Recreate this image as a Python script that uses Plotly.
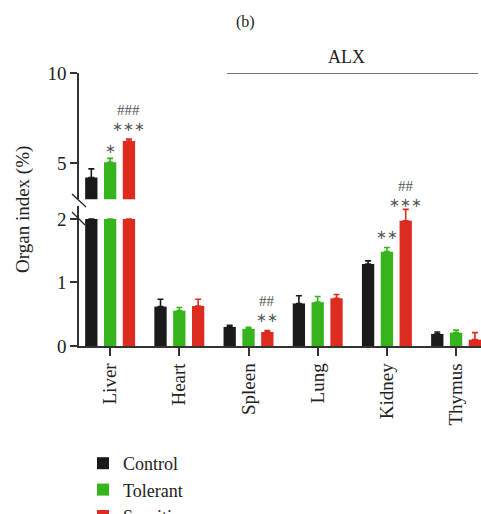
import plotly.graph_objects as go

organs = ["Liver", "Heart", "Spleen", "Lung", "Kidney", "Thymus"]
groups = ["Control", "Tolerant", "Sensitive"]
colors = ["#1a1a1a", "#35b41c", "#dd2b1f"]

control = [4.20, 0.62, 0.30, 0.67, 1.29, 0.19]
control_err = [0.48, 0.115, 0.025, 0.12, 0.05, 0.03]
tolerant = [5.05, 0.556, 0.27, 0.69, 1.485, 0.21]
tolerant_err = [0.21, 0.05, 0.025, 0.09, 0.065, 0.04]
sensitive = [6.22, 0.63, 0.22, 0.75, 1.97, 0.10]
sensitive_err = [0.11, 0.105, 0.025, 0.06, 0.18, 0.11]

values = [control, tolerant, sensitive]
errors = [control_err, tolerant_err, sensitive_err]

break_low = 2.0
low_range = [0, 2.2]
high_range = [3, 10]

# significance marks: (organ index, group index, text, pixel shift above error bar)
marks = [
    (0, 1, "∗", 10),
    (0, 2, "∗∗∗", 13),
    (0, 2, "###", 29),
    (2, 2, "∗∗", 13),
    (2, 2, "##", 29),
    (4, 1, "∗∗", 13),
    (4, 2, "∗∗∗", 7),
    (4, 2, "##", 23),
]

FONT = "Liberation Serif"
AX = "#333333"
fig = go.Figure()

for g, name in enumerate(groups):
    v = values[g]
    e = errors[g]
    low_v = [min(x, break_low) for x in v]
    low_e = [err if x <= break_low else float("nan") for x, err in zip(v, e)]
    fig.add_trace(go.Bar(
        x=organs, y=low_v, name=name, marker_color=colors[g], marker_line_width=0,
        error_y=dict(type="data", symmetric=False, array=low_e, arrayminus=[0] * len(v),
                     color=colors[g], thickness=1.6, width=3),
        xaxis="x", yaxis="y", legendgroup=name, showlegend=True,
    ))
    fig.add_trace(go.Bar(
        x=organs, y=v, name=name, marker_color=colors[g], marker_line_width=0,
        error_y=dict(type="data", symmetric=False, array=e, arrayminus=[0] * len(v),
                     color=colors[g], thickness=1.6, width=3),
        xaxis="x", yaxis="y2", legendgroup=name, showlegend=False,
    ))

slot = 0.272
for oi, gi, txt, shift in marks:
    top = values[gi][oi] + errors[gi][oi]
    ax = "y2" if top > break_low + 0.5 else "y"
    size = 13 if "∗" in txt else 15
    fig.add_annotation(x=oi + (gi - 1) * slot, y=top, xref="x", yref=ax, text=txt,
                       showarrow=False, yanchor="middle", yshift=shift, borderpad=0,
                       font=dict(family=FONT, size=size, color="#555555"))

# ALX bracket
fig.add_shape(type="line", xref="x", yref="y2", x0=1.69, x1=5.32, y0=10, y1=10,
              line=dict(color="#444444", width=1.5))
fig.add_annotation(x=3.42, y=10, xref="x", yref="y2", text="ALX", showarrow=False,
                   yanchor="bottom", yshift=4, font=dict(family=FONT, size=18, color="#222222"))

# axis break marks (paper coords relative to plot area)
W, H = 402, 273
def px(xp, yp):
    return (xp - 79) / W, (346 - yp) / H
for (x0, y0, x1, y1) in [(72, 194, 86, 207), (72, 212, 85, 225)]:
    a0, b0 = px(x0, y0)
    a1, b1 = px(x1, y1)
    fig.add_shape(type="line", xref="paper", yref="paper", x0=a0, y0=b0, x1=a1, y1=b1,
                  line=dict(color="#222222", width=1.3))

# y axis title
fig.add_annotation(xref="paper", yref="paper", x=(23 - 79) / W, y=(346 - 210) / H,
                   text="Organ index (%)", textangle=-90, showarrow=False,
                   xanchor="center", yanchor="middle",
                   font=dict(family=FONT, size=19, color="#222222"))

fig.update_layout(
    width=481, height=514,
    margin=dict(l=79, r=0, t=73, b=168, autoexpand=False),
    paper_bgcolor="white", plot_bgcolor="white",
    barmode="group", bargap=0.184, bargroupgap=0.346,
    title=dict(text="(b)", x=0.51, xanchor="center", y=1 - 21 / 514, yanchor="middle",
               font=dict(family=FONT, size=16, color="#222222")),
    font=dict(family=FONT, color="#222222"),
    xaxis=dict(domain=[0, 1], range=[-0.45, 5.36], anchor="y", showline=True,
               linecolor=AX, linewidth=1.5, ticks="outside", ticklen=8, tickwidth=1.5,
               tickcolor=AX, tickangle=-90, tickfont=dict(family=FONT, size=19, color="#222222"),
               showgrid=False, zeroline=False),
    yaxis=dict(domain=[0, 0.512], range=low_range, anchor="x", showline=True,
               linecolor=AX, linewidth=1.5, ticks="outside", ticklen=7, tickwidth=1.5,
               tickcolor=AX, tickvals=[0, 1, 2], tickfont=dict(family=FONT, size=19, color="#222222"),
               showgrid=False, zeroline=False),
    yaxis2=dict(domain=[0.538, 1], range=high_range, anchor="x", showline=True,
                linecolor=AX, linewidth=1.5, ticks="outside", ticklen=7, tickwidth=1.5,
                tickcolor=AX, tickvals=[5, 10], tickfont=dict(family=FONT, size=19, color="#222222"),
                showgrid=False, zeroline=False),
    legend=dict(x=4 / W, y=(346 - 445) / H, xanchor="left", yanchor="top",
                font=dict(family=FONT, size=18, color="#222222"),
                bgcolor="rgba(0,0,0,0)", tracegroupgap=0),
    showlegend=True,
)

fig.write_html("out.html", config={"displayModeBar": False},
               post_script="document.body.style.margin='0';")
